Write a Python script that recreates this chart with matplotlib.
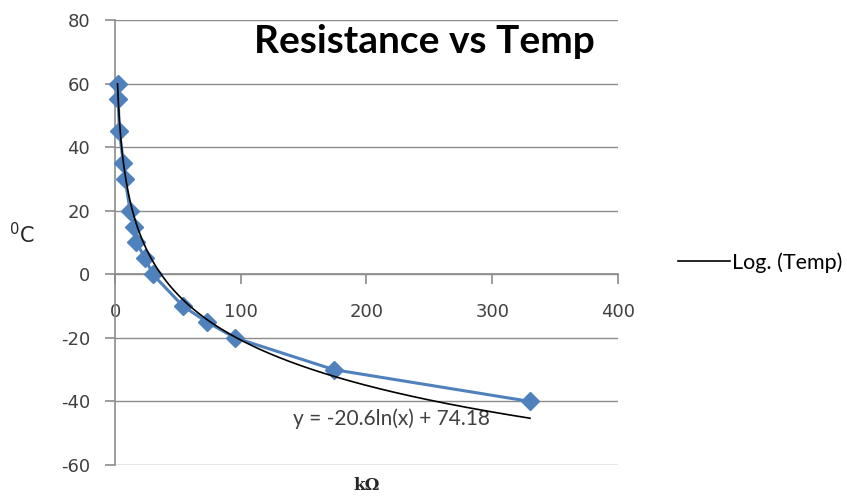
import numpy as np
import matplotlib
matplotlib.use("Agg")
import matplotlib.pyplot as plt

plt.rcParams['axes.unicode_minus'] = False

# resistance (kOhm) and temperature (deg C)
resistance = [2.0, 2.5, 3.5, 6.6, 8.0, 12.0, 15.0, 17.0, 24.0, 30.0, 54.0, 73.0, 95.5, 174.0, 330.0]
temp = [60, 55, 45, 35, 30, 20, 15, 10, 5, 0, -10, -15, -20, -30, -40]

# logarithmic trendline y = a*ln(x) + b
trend_a = -20.6
trend_b = 74.18

x_ticks = [0, 100, 200, 300, 400]
y_ticks = [-60, -40, -20, 0, 20, 40, 60, 80]

fig = plt.figure(figsize=(8.47, 4.96), dpi=100)
ax = fig.add_axes([0.1358, 0.0625, 0.5938, 0.8972])

ax.plot(resistance, temp, color='#4F81BD', lw=2.2, marker='D', markersize=9.5,
        markerfacecolor='#4F81BD', markeredgecolor='#4F81BD', clip_on=False, zorder=3)

xs = np.linspace(min(resistance), max(resistance), 400)
trend, = ax.plot(xs, trend_a * np.log(xs) + trend_b, color='black', lw=1.2,
                 zorder=4, label='Log. (Temp)')

ax.set_xlim(0, 400)
ax.set_ylim(-60, 80)
ax.set_xticks(x_ticks)
ax.set_yticks(y_ticks)

ax.grid(axis='y', color='#8c8c8c', lw=1)
ax.grid(axis='x', visible=False)
ax.set_axisbelow(True)

for s in ['top', 'right']:
    ax.spines[s].set_visible(False)
ax.spines['bottom'].set_position(('data', 0))
ax.spines['bottom'].set_color('#8c8c8c')
ax.spines['left'].set_color('#8c8c8c')
ax.spines['bottom'].set_linewidth(1.2)
ax.spines['left'].set_linewidth(1.2)

ax.tick_params(axis='both', colors='#8c8c8c', labelcolor='#404040',
               labelsize=13, length=7, width=1.2)
ax.tick_params(axis='x', pad=14)
ax.tick_params(axis='y', pad=11)

ax.text(0.616, 0.952, 'Resistance vs Temp', transform=ax.transAxes,
        fontsize=28, fontweight='bold', family='Lato', ha='center', va='center')

ax.set_ylabel(r'$^{0}$C', fontsize=15, rotation=0, color='#262626')
ax.yaxis.set_label_coords(-0.185, 0.49)
ax.set_xlabel('kΩ', fontsize=12, fontweight='bold', color='#262626', family='DejaVu Serif')
ax.xaxis.set_label_coords(0.5, -0.026)

ax.text(0.354, 0.103, 'y = -20.6ln(x) + 74.18', transform=ax.transAxes,
        fontsize=15, family='Lato', color='#404040', va='center', ha='left')

ax.legend(handles=[trend], loc='center left', bbox_to_anchor=(1.12, 0.455),
          frameon=False, handlelength=2.4, handletextpad=0.1,
          borderaxespad=0, borderpad=0,
          prop={'family': 'Lato', 'size': 15.5})

fig.savefig('out.png', dpi=100)
